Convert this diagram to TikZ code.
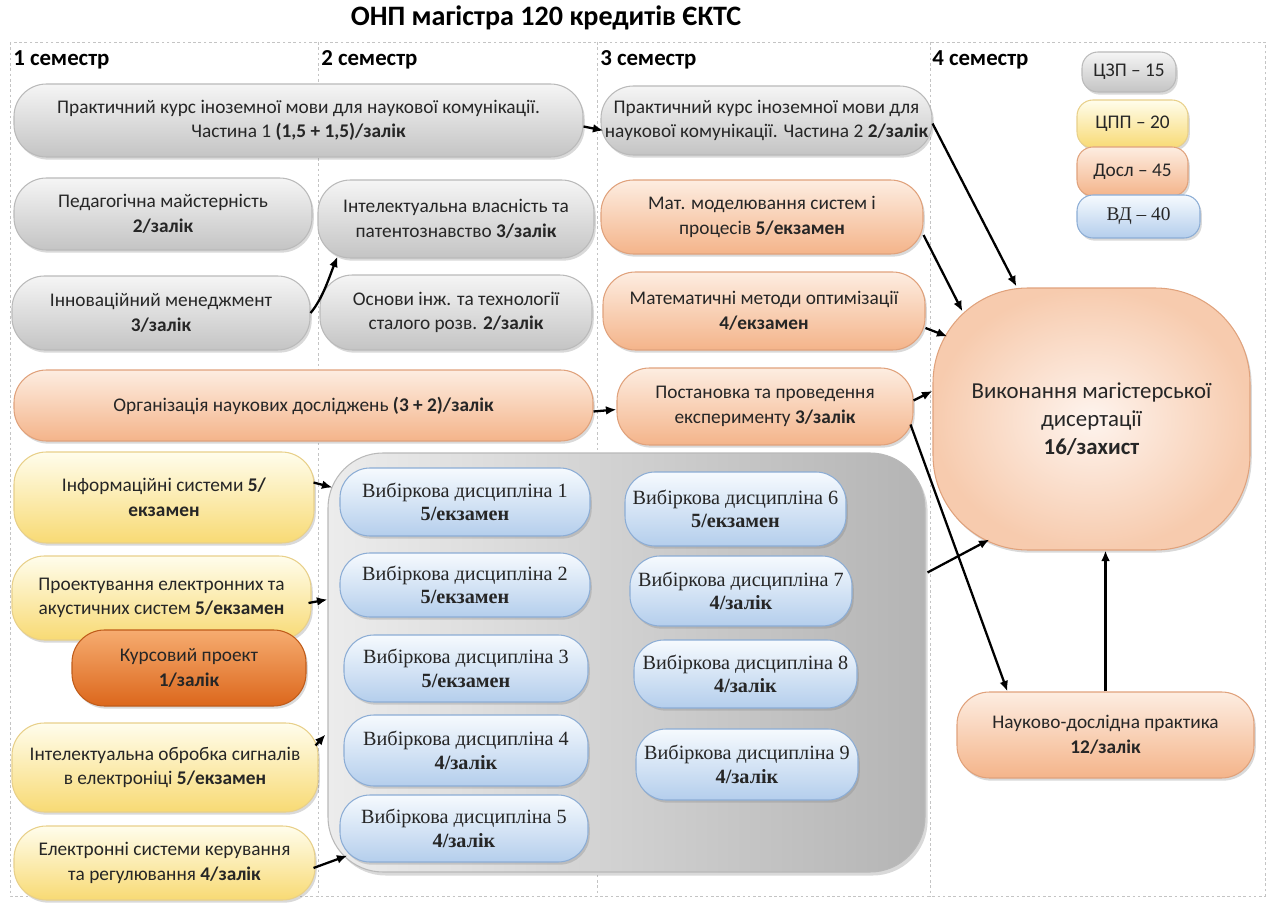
\documentclass[tikz,border=0pt]{standalone}
\usepackage{fontspec}
\setmainfont{Carlito}
\newfontfamily\vdfont{Liberation Serif}
\usetikzlibrary{arrows.meta,calc,shadows}
\definecolor{gtop}{HTML}{F5F5F5}\definecolor{gbot}{HTML}{C4C4C4}\definecolor{gbrd}{HTML}{BABABA}
\definecolor{otop}{HTML}{FDEDE1}\definecolor{obot}{HTML}{F4B48A}\definecolor{obrd}{HTML}{E0A27C}
\definecolor{ytop}{HTML}{FFFDEC}\definecolor{ybot}{HTML}{F8DA74}\definecolor{ybrd}{HTML}{E8D08A}
\definecolor{dtop}{HTML}{F6AC70}\definecolor{dbot}{HTML}{DC671C}\definecolor{dbrd}{HTML}{C05C1A}
\definecolor{btop}{HTML}{F6FAFE}\definecolor{bbot}{HTML}{B4CEEC}\definecolor{bbrd}{HTML}{8CADD5}
\definecolor{ctop}{HTML}{ECECEC}\definecolor{cbot}{HTML}{B4B4B4}
\definecolor{gridc}{HTML}{C4C4C4}
\definecolor{circin}{HTML}{FEF4EE}\definecolor{circout}{HTML}{F7CBAE}
\tikzset{
  sz/.style 2 args={minimum width=#1*0.02cm, minimum height=#2*0.02cm},
  box/.style={draw, rounded corners=0.65cm, align=center, inner sep=2pt, line width=0.6pt,
    text=black!85, font=\fontsize{11}{14}\selectfont,
    drop shadow={opacity=0.3, shadow xshift=1pt, shadow yshift=-1.5pt}},
  grayb/.style={box, draw=gbrd, top color=gtop, bottom color=gbot},
  orb/.style={box, draw=obrd, top color=otop, bottom color=obot},
  yelb/.style={box, draw=ybrd, top color=ytop, bottom color=ybot},
  darkb/.style={box, draw=dbrd, top color=dtop, bottom color=dbot},
  blueb/.style={box, draw=bbrd, top color=btop, bottom color=bbot, rounded corners=0.6cm,
    font=\vdfont\fontsize{11.5}{13.5}\selectfont},
  legb/.style={rounded corners=0.32cm},
  hdr/.style={anchor=west, inner sep=0pt, font=\fontsize{13}{15}\bfseries\selectfont},
  gridl/.style={draw=gridc, line width=0.5pt, dash pattern=on 1.5pt off 1.5pt},
  arr/.style={-{Latex[length=6pt,width=5pt]}, line width=1.3pt, black},
}
\begin{document}
\begin{tikzpicture}[x=0.02cm, y=-0.02cm]
\useasboundingbox (0,0) rectangle (1269,909);
% grid
\draw[gridl] (10,42) rectangle (1265,896);
\draw[gridl] (318,42) -- (318,896);
\draw[gridl] (597,42) -- (597,896);
\draw[gridl] (930,42) -- (930,896);
% title and headers
\node[font=\fontsize{16}{19}\bfseries\selectfont, inner sep=0pt] (title) at (546,18) {ОНП магістра 120 кредитів ЄКТС};
\node[hdr] (h1) at (13,60) {1 семестр};
\node[hdr] (h2) at (321,60) {2 семестр};
\node[hdr] (h3) at (600,60) {3 семестр};
\node[hdr] (h4) at (932,60) {4 семестр};
% electives container
\node[draw=gray!55, line width=0.6pt, rounded corners=1.1cm, left color=ctop, right color=cbot, sz={597}{419},
  drop shadow={opacity=0.3, shadow xshift=1.5pt, shadow yshift=-2pt}] (vd) at (626.5,662.5) {};
\node[blueb, sz={250}{68}] (b1) at (465,502) {Вибіркова дисципліна 1\\\textbf{5/екзамен}};
\node[blueb, sz={250}{64}] (b2) at (465,585) {Вибіркова дисципліна 2\\\textbf{5/екзамен}};
\node[blueb, sz={244}{67}] (b3) at (466,668.5) {Вибіркова дисципліна 3\\\textbf{5/екзамен}};
\node[blueb, sz={244}{71}] (b4) at (466,750.5) {Вибіркова дисципліна 4\\\textbf{4/залік}};
\node[blueb, sz={248}{67}] (b5) at (464,828.5) {Вибіркова дисципліна 5\\\textbf{4/залік}};
\node[blueb, sz={221}{74}] (b6) at (735.5,509) {Вибіркова дисципліна 6\\\textbf{5/екзамен}};
\node[blueb, sz={222}{70}] (b7) at (741,591) {Вибіркова дисципліна 7\\\textbf{4/залік}};
\node[blueb, sz={223}{68}] (b8) at (745.5,674) {Вибіркова дисципліна 8\\\textbf{4/залік}};
\node[blueb, sz={222}{71}] (b9) at (747,764.5) {Вибіркова дисципліна 9\\\textbf{4/залік}};
% semester 1-2 gray
\node[grayb, sz={569}{73}] (n1) at (298.5,120.5) {Практичний курс іноземної мови для наукової комунікації.\\Частина 1 \textbf{(1,5 + 1,5)/залік}};
\node[grayb, sz={331}{69}] (n2) at (766.5,120.5) {Практичний курс іноземної мови для\\наукової комунікації. Частина 2 \textbf{2/залік}};
\node[grayb, sz={298}{72}] (n3) at (163,214) {Педагогічна майстерність\\\textbf{2/залік}};
\node[grayb, sz={276}{78}] (n4) at (456,219) {Інтелектуальна власність та\\патентознавство \textbf{3/залік}};
\node[grayb, sz={298}{74}] (n5) at (161,313) {Інноваційний менеджмент\\\textbf{3/залік}};
\node[grayb, sz={272}{75}] (n6) at (456,312.5) {Основи інж. та технології\\сталого розв. \textbf{2/залік}};
% research (orange)
\node[orb, sz={579}{71}] (n7) at (303.5,405.5) {Організація наукових досліджень \textbf{(3 + 2)/залік}};
\node[orb, sz={322}{74}] (n8) at (762,217) {Мат. моделювання систем і\\процесів \textbf{5/екзамен}};
\node[orb, sz={322}{78}] (n9) at (764,311) {Математичні методи оптимізації\\\textbf{4/екзамен}};
\node[orb, sz={296}{77}] (n10) at (765,406.5) {Постановка та проведення\\експерименту \textbf{3/залік}};
\node[box, draw=obrd, inner color=circin, outer color=circout, rounded corners=1.9cm, sz={317}{262},
  font=\fontsize{13}{16}\selectfont] (c) at (1091.5,419) {Виконання магістерської\\дисертації\\\textbf{16/захист}};
\node[orb, sz={297}{86}] (n20) at (1105.5,735) {Науково-дослідна практика\\\textbf{12/залік}};
% yellow
\node[yelb, sz={300}{91}] (n13) at (164,497.5) {Інформаційні системи \textbf{5/}\\\textbf{екзамен}};
\node[yelb, sz={299}{84}] (n14) at (161.5,598) {Проектування електронних та\\акустичних систем \textbf{5/екзамен}};
\node[darkb, sz={234}{76}] (n15) at (189,668) {Курсовий проект\\\textbf{1/залік}};
\node[yelb, sz={306}{89}] (n16) at (165,767.5) {Інтелектуальна обробка сигналів\\в електроніці \textbf{5/екзамен}};
\node[yelb, sz={301}{74}] (n17) at (164.5,863) {Електронні системи керування\\та регулювання \textbf{4/залік}};
% legend
\node[grayb, legb, sz={94}{40}] (l1) at (1129,72) {ЦЗП – 15};
\node[yelb, legb, sz={111}{48}] (l2) at (1132.5,124) {ЦПП – 20};
\node[orb, legb, sz={111}{49}] (l3) at (1132.5,171.5) {Досл – 45};
\node[blueb, legb, sz={123}{43}, font=\vdfont\fontsize{11}{13}\selectfont] (l4) at (1138.5,216.5) {ВД – 40};
% connectors
\draw[arr] ($(n1.east)+(0,6)$) -- ($(n2.west)+(3,10)$);
\draw[arr] (n5.east) .. controls +(12,-14) and +(-8,20) .. ($(n4.south west)+(20,-2)$);
\draw[arr] ($(n2.east)+(0,3)$) -- ($(c.north west)+(84,-1)$);
\draw[arr] ($(n8.east)+(0,18)$) -- ($(c.north west)+(30,24)$);
\draw[arr] ($(n9.east)+(0,17)$) -- ($(c.north west)+(15,49)$);
\draw[arr] ($(n7.east)+(0,6)$) -- ($(n10.west)+(0,3)$);
\draw[arr] ($(n10.east)+(0,-6)$) -- ($(c.west)+(0,-28)$);
\draw[arr] ($(n10.east)+(-3,18)$) -- ($(n20.north west)+(51,0)$);
\draw[arr] ($(vd.east)+(2,-90)$) -- ($(c.south west)+(57,-11)$);
\draw[arr] (n20.north) -- (n20.north |- c.south);
\draw[arr] ($(n13.east)+(-1,-15)$) -- ($(vd.north west)+(5,35)$);
\draw[arr] ($(n14.east)+(-3,5)$) -- ($(vd.west)+(0,-63)$);
\draw[arr] ($(n16.east)+(-3,-22)$) -- ($(vd.west)+(-2,72)$);
\draw[arr] ($(n17.east)+(-2,5)$) -- ($(b5.south west)+(8,-7)$);
\end{tikzpicture}
\end{document}
